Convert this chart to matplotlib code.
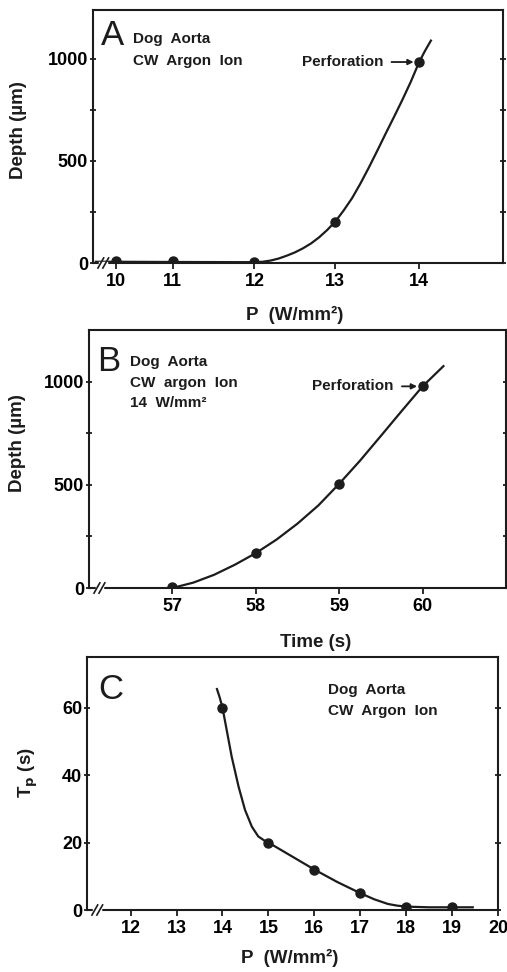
import numpy as np
import matplotlib
matplotlib.use("Agg")
import matplotlib.pyplot as plt

plt.rcParams['font.family'] = ['Liberation Sans', 'DejaVu Sans']
plt.rcParams['font.weight'] = 'bold'

INK = '#1c1c1c'

# ---------------- data ----------------
# Panel A: depth vs irradiance
a_p = [10, 11, 12, 13, 14]
a_depth = [10, 8, 5, 203, 985]
a_curve_p = [9.65, 10, 11, 12, 12.1, 12.2, 12.3, 12.4, 12.5, 12.6, 12.7, 12.8, 12.9, 13.0,
             13.1, 13.2, 13.3, 13.4, 13.5, 13.6, 13.7, 13.8, 13.9, 14.0, 14.07, 14.14]
a_curve_d = [6, 6, 5, 4, 6, 12, 22, 36, 52, 72, 96, 126, 162, 203,
             258, 318, 390, 468, 550, 634, 716, 800, 888, 985, 1040, 1090]
a_xticks = [10, 11, 12, 13, 14]
# tick-position calibration of the (broken) P axis in panel A
a_knots_val = [9, 10, 11, 12, 13, 14, 16]
a_knots_pos = [59, 116, 173, 255, 336, 420, 588]

# Panel B: depth vs time at 14 W/mm^2
b_t = [57, 58, 59, 60]
b_depth = [5, 170, 505, 977]
b_curve_t = [57.0, 57.25, 57.5, 57.75, 58.0, 58.25, 58.5, 58.75, 59.0, 59.25, 59.5, 59.75,
             60.0, 60.25]
b_curve_d = [0, 26, 64, 113, 169, 235, 312, 400, 505, 617, 737, 858, 977, 1075]
b_xticks = [57, 58, 59, 60]

# Panel C: time to perforation vs irradiance
c_p = [14, 15, 16, 17, 18, 19]
c_tp = [60, 20, 12, 5, 1.0, 0.9]
c_curve_p = [13.88, 13.94, 14.0, 14.09, 14.2, 14.35, 14.49, 14.64, 14.78, 14.9, 15.0,
             15.5, 16.0, 16.5, 17.0, 17.3, 17.6, 17.8, 18.0, 18.5, 19.0, 19.45]
c_curve_t = [65.5, 63, 60, 53.5, 45.5, 36.6, 29.7, 24.7, 21.8, 20.7, 20,
             16, 12, 8.3, 5, 3.2, 1.8, 1.3, 1.0, 0.8, 0.8, 0.8]
c_xticks = [12, 13, 14, 15, 16, 17, 18, 19, 20]

W, H = 507, 972
fig = plt.figure(figsize=(W / 100, H / 100), dpi=100)
fig.patch.set_facecolor('white')

TICK_FS = 13
LAB_FS = 13.5
ANN_FS = 11
LET_FS = 25


def make_ax(left, right, top, bottom):
    return fig.add_axes([left / W, 1 - bottom / H, (right - left) / W, (bottom - top) / H])


def style(ax):
    for s in ax.spines.values():
        s.set_linewidth(1.5)
        s.set_color(INK)
    ax.tick_params(axis='y', which='both', left=True, right=True, direction='inout',
                   length=5, width=1.3, color=INK, labelsize=TICK_FS, pad=1)
    ax.tick_params(axis='x', direction='out', length=4, width=1.3, color=INK,
                   labelsize=TICK_FS, pad=3)
    for lab in ax.get_xticklabels() + ax.get_yticklabels():
        lab.set_fontweight('bold')


def add_break(ax):
    tr = ax.transAxes
    ax.plot([0.018, 0.032], [0, 0], transform=tr, color='white', lw=2.5, clip_on=False, zorder=4)
    for dx in (0.0, 0.012):
        ax.plot([0.012 + dx, 0.026 + dx], [-0.02, 0.02], transform=tr, color=INK,
                lw=1.2, clip_on=False, zorder=5)


def flabel(x, y, s, rot=0):
    fig.text(x / W, 1 - y / H, s, fontsize=LAB_FS, fontweight='bold', ha='center',
             va='center', rotation=rot, color=INK)


def note(ax, x, y, s, **kw):
    ax.text(x, y, s, transform=ax.transAxes, fontsize=ANN_FS, fontweight='bold',
            ha='left', va='center', color=INK, **kw)


def perforation(ax, xy, off):
    ax.annotate('Perforation', xy=xy, xytext=(off, 0), textcoords='offset pixels',
                ha='right', va='center', fontsize=ANN_FS, fontweight='bold', color=INK,
                arrowprops=dict(arrowstyle='-|>', color=INK, lw=1.3, shrinkA=4, shrinkB=4,
                                mutation_scale=8))


# ---------------- Panel A ----------------
axA = make_ax(93, 503, 10, 263)
fwd = lambda x: np.interp(x, a_knots_val, a_knots_pos)
inv = lambda y: np.interp(y, a_knots_pos, a_knots_val)
axA.set_xscale('function', functions=(fwd, inv))
axA.plot(a_curve_p, a_curve_d, color=INK, lw=1.6, solid_joinstyle='round')
axA.plot(a_p, a_depth, 'o', color=INK, ms=6.5)
axA.set_xlim(9.6, 15.0)
axA.set_ylim(0, 1240)
axA.set_xticks(a_xticks)
axA.set_xticklabels([str(v) for v in a_xticks])
axA.set_yticks([0, 250, 500, 750, 1000])
axA.set_yticklabels(['0', '', '500', '', '1000'])
style(axA)
add_break(axA)
flabel(19, 130, 'Depth (µm)', rot=90)
flabel(295, 315, 'P  (W/mm²)')
axA.text(0.020, 0.898, 'A', transform=axA.transAxes, fontsize=LET_FS, fontweight='normal',
         ha='left', va='center', color=INK)
note(axA, 0.098, 0.886, 'Dog  Aorta')
note(axA, 0.098, 0.800, 'CW  Argon  Ion')
perforation(axA, (14, 985), -36)

# ---------------- Panel B ----------------
axB = make_ax(89, 506, 330, 588)
axB.plot(b_curve_t, b_curve_d, color=INK, lw=1.6, solid_joinstyle='round')
axB.plot(b_t, b_depth, 'o', color=INK, ms=6.5)
axB.set_xlim(56.0, 61.0)
axB.set_ylim(0, 1250)
axB.set_xticks(b_xticks)
axB.set_xticklabels([str(v) for v in b_xticks])
axB.set_yticks([0, 250, 500, 750, 1000])
axB.set_yticklabels(['0', '', '500', '', '1000'])
style(axB)
add_break(axB)
flabel(18, 443, 'Depth (µm)', rot=90)
flabel(316, 642, 'Time (s)')
axB.text(0.019, 0.876, 'B', transform=axB.transAxes, fontsize=LET_FS, fontweight='normal',
         ha='left', va='center', color=INK)
note(axB, 0.098, 0.876, 'Dog  Aorta')
note(axB, 0.098, 0.795, 'CW  argon  Ion')
note(axB, 0.098, 0.717, '14  W/mm²')
perforation(axB, (60, 977), -29)

# ---------------- Panel C ----------------
axC = make_ax(87, 498, 657, 910)
axC.plot(c_curve_p, c_curve_t, color=INK, lw=1.6, solid_joinstyle='round')
axC.plot(c_p, c_tp, 'o', color=INK, ms=6.5)
axC.set_xlim(11.05, 20.0)
axC.set_ylim(0, 75)
axC.set_xticks(c_xticks)
axC.set_xticklabels([str(v) for v in c_xticks])
axC.set_yticks([0, 20, 40, 60])
style(axC)
add_break(axC)
flabel(28, 773, r'T$_\mathbf{p}$ (s)', rot=90)
flabel(290, 958, 'P  (W/mm²)')
axC.text(0.027, 0.87, 'C', transform=axC.transAxes, fontsize=LET_FS, fontweight='normal',
         ha='left', va='center', color=INK)
note(axC, 0.586, 0.87, 'Dog  Aorta')
note(axC, 0.586, 0.787, 'CW  Argon  Ion')

fig.savefig('out.png', dpi=100, facecolor='white')
